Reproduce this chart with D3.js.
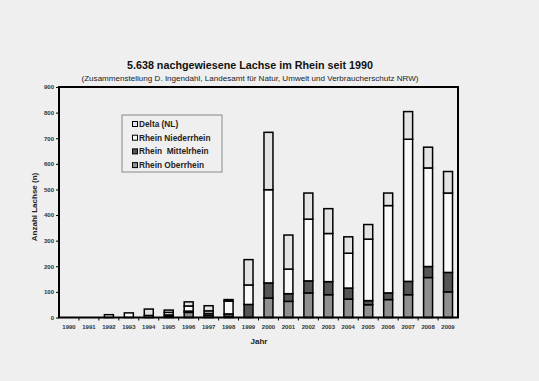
<!DOCTYPE html>
<html><head><meta charset="utf-8">
<script src="https://cdn.jsdelivr.net/npm/d3@7"></script>
<style>
html,body{margin:0;padding:0;background:#efefef;}
svg{display:block;font-family:"Liberation Sans",Arial,sans-serif;}
</style></head>
<body><svg id="c" width="539" height="381"></svg>
<script>
const years = ["1990","1991","1992","1993","1994","1995","1996","1997","1998","1999","2000","2001","2002","2003","2004","2005","2006","2007","2008","2009"];
const oberrhein   = [0,0,0,0,0,4,20,8,2,0,76,63,96,89,72,50,70,89,156,100];
const mittelrhein = [0,0,0,0,0,6,5,8,12,51,59,30,47,51,43,16,26,52,43,76];
const niederrhein = [0,0,11,18,8,10,20,10,50,76,364,96,241,188,136,240,341,555,385,310];
const delta       = [0,0,0,0,25,9,16,20,6,99,224,133,102,97,64,57,49,108,81,84];
const yTicks = [0,100,200,300,400,500,600,700,800,900];
const seriesNames = ["Delta (NL)","Rhein Niederrhein","Rhein  Mittelrhein","Rhein Oberrhein"];
const title = "5.638 nachgewiesene Lachse im Rhein seit 1990";
const subtitle = "(Zusammenstellung D. Ingendahl, Landesamt für Natur, Umwelt und Verbraucherschutz NRW)";

const colors = {"Rhein Oberrhein":"#8f8f8f","Rhein  Mittelrhein":"#555555","Rhein Niederrhein":"#f9f9f9","Delta (NL)":"#e3e3e3"};
const stackOrder = ["Rhein Oberrhein","Rhein  Mittelrhein","Rhein Niederrhein","Delta (NL)"];
const seriesData = {"Rhein Oberrhein":oberrhein,"Rhein  Mittelrhein":mittelrhein,"Rhein Niederrhein":niederrhein,"Delta (NL)":delta};

const rows = years.map((y,i)=>{const r={year:y}; stackOrder.forEach(k=>r[k]=seriesData[k][i]); return r;});
const stack = d3.stack().keys(stackOrder)(rows);

const svg = d3.select("#c");
const L=59,R=458,T=87,B=317.5;
const x = d3.scaleBand().domain(years).range([L,R]).paddingInner(0.55).paddingOuter(0.275);
const y = d3.scaleLinear().domain([0,900]).range([B,T]);

svg.append("rect").attr("width",539).attr("height",381).attr("fill","#efefef");

// titles
svg.append("text").attr("x",250).attr("y",68.5).attr("text-anchor","middle")
  .attr("font-size",11.5).attr("font-weight","bold").attr("fill","#111")
  .attr("textLength",246).attr("lengthAdjust","spacingAndGlyphs").text(title);
svg.append("text").attr("x",250).attr("y",80.5).attr("text-anchor","middle")
  .attr("font-size",8).attr("fill","#222")
  .attr("textLength",337).attr("lengthAdjust","spacingAndGlyphs").text(subtitle);

// bars
stack.forEach(s=>{
  svg.append("g").selectAll("rect").data(s.filter(d=>d[1]-d[0]>0)).join("rect")
    .attr("x",d=>x(d.data.year)).attr("width",x.bandwidth())
    .attr("y",d=>y(d[1])).attr("height",d=>y(d[0])-y(d[1]))
    .attr("fill",colors[s.key]).attr("stroke","#000").attr("stroke-width",1.5);
});

// frame
svg.append("rect").attr("x",L).attr("y",T).attr("width",R-L).attr("height",B-T)
  .attr("fill","none").attr("stroke","#000").attr("stroke-width",2);

// y axis
const yAxis = d3.axisLeft(y).tickValues(yTicks).tickSize(3).tickPadding(2);
const gy = svg.append("g").attr("transform",`translate(${L},0)`).call(yAxis);
gy.select(".domain").remove();
gy.selectAll("text").attr("font-size",6).attr("font-weight","bold").attr("fill","#333").attr("font-family","Liberation Sans, Arial, sans-serif");
gy.selectAll("line").attr("stroke","#000");

// x axis
const xAxis = d3.axisBottom(x).tickSize(0).tickPadding(7.5);
const gx = svg.append("g").attr("transform",`translate(0,${B})`).call(xAxis);
gx.select(".domain").remove();
gx.selectAll("text").attr("font-size",6).attr("font-weight","bold").attr("fill","#333").attr("font-family","Liberation Sans, Arial, sans-serif");
// boundary ticks
svg.append("g").selectAll("line").data(years.slice(1)).join("line")
  .attr("x1",d=>x(d)-x.step()*x.paddingInner()/2).attr("x2",d=>x(d)-x.step()*x.paddingInner()/2)
  .attr("y1",B).attr("y2",B+3).attr("stroke","#000").attr("stroke-width",1);

// axis titles
svg.append("text").attr("x",259).attr("y",344).attr("text-anchor","middle")
  .attr("font-size",8).attr("font-weight","bold").attr("fill","#222").text("Jahr");
svg.append("text").attr("transform","translate(37,207) rotate(-90)").attr("text-anchor","middle")
  .attr("font-size",8).attr("font-weight","bold").attr("fill","#222").text("Anzahl Lachse (n)");

// legend
const lg = svg.append("g");
lg.append("rect").attr("x",122).attr("y",115).attr("width",100).attr("height",57)
  .attr("fill","#efefef").attr("stroke","#888").attr("stroke-width",1);
seriesNames.forEach((n,i)=>{
  const cy = 124 + i*13.7;
  lg.append("rect").attr("x",132.5).attr("y",cy-2.5).attr("width",5).attr("height",5)
    .attr("fill",colors[n]).attr("stroke","#000").attr("stroke-width",1);
  lg.append("text").attr("x",139).attr("y",cy+3).attr("font-size",8.3).attr("font-weight","bold")
    .attr("fill","#222").style("white-space","pre").text(n);
});
</script></body></html>
